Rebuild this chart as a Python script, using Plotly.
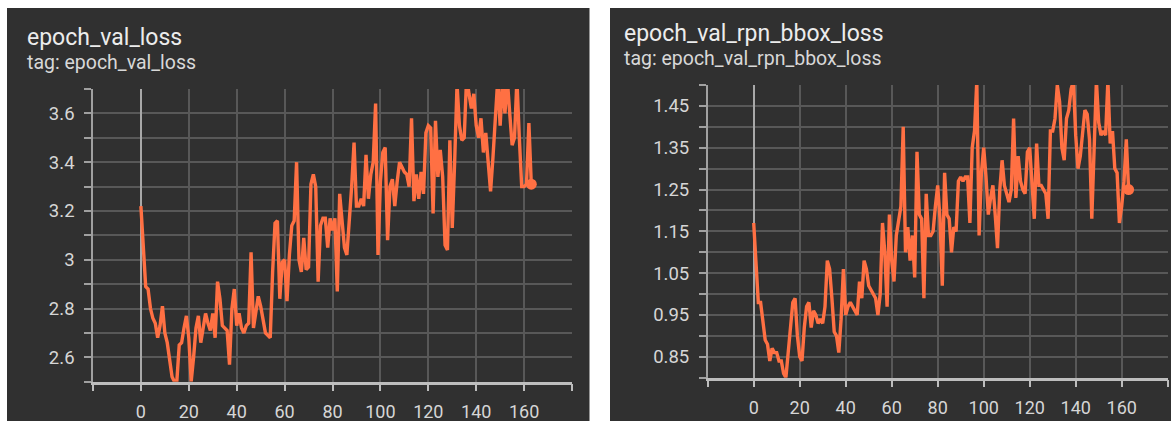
import plotly.graph_objects as go

W, H = 1171, 421

# ---------------- data ----------------
epochs_loss = list(range(164))
val_loss = [
    3.22, 3.05, 2.89, 2.88, 2.80, 2.76, 2.74, 2.68, 2.73, 2.81,
    2.70, 2.66, 2.60, 2.52, 2.50, 2.50, 2.65, 2.66, 2.72, 2.77,
    2.68, 2.50, 2.60, 2.72, 2.77, 2.66, 2.72, 2.78, 2.74, 2.71,
    2.78, 2.68, 2.91, 2.84, 2.73, 2.72, 2.71, 2.57, 2.80, 2.88,
    2.73, 2.78, 2.72, 2.70, 2.73, 2.74, 3.03, 2.72, 2.78, 2.85,
    2.81, 2.75, 2.70, 2.69, 2.68, 2.95, 3.15, 3.16, 2.84, 2.99,
    3.00, 2.83, 3.02, 3.14, 3.16, 3.40, 3.00, 2.95, 3.09, 2.96,
    2.97, 3.31, 3.35, 3.30, 2.91, 3.14, 3.17, 3.17, 3.05, 3.17,
    3.12, 3.17, 2.87, 3.27, 3.15, 3.05, 3.02, 3.14, 3.30, 3.48,
    3.22, 3.22, 3.25, 3.22, 3.43, 3.25, 3.35, 3.40, 3.64, 3.02,
    3.32, 3.44, 3.46, 3.08, 3.30, 3.33, 3.22, 3.32, 3.40, 3.38,
    3.36, 3.35, 3.30, 3.58, 3.24, 3.35, 3.25, 3.36, 3.27, 3.52,
    3.55, 3.54, 3.19, 3.57, 3.34, 3.45, 3.34, 3.06, 3.04, 3.49,
    3.13, 3.40, 3.72, 3.55, 3.49, 3.50, 3.75, 3.68, 3.62, 3.68,
    3.55, 3.50, 3.58, 3.44, 3.52, 3.40, 3.28, 3.42, 3.55, 3.74,
    3.55, 3.74, 3.60, 3.74, 3.60, 3.47, 3.50, 3.74, 3.50, 3.30,
    3.30, 3.31, 3.56, 3.31,
]

epochs_rpn = list(range(164))
val_rpn_bbox_loss = [
    1.17, 1.06, 0.98, 0.98, 0.94, 0.89, 0.88, 0.84, 0.87, 0.86,
    0.86, 0.84, 0.84, 0.81, 0.80, 0.86, 0.94, 0.98, 0.99, 0.90,
    0.85, 0.84, 0.92, 0.97, 0.98, 0.92, 0.96, 0.95, 0.93, 0.94,
    0.93, 0.97, 1.08, 1.06, 0.99, 0.91, 0.90, 0.86, 0.94, 1.06,
    0.95, 0.97, 0.98, 0.97, 0.96, 0.95, 1.03, 0.99, 1.08, 1.06,
    1.02, 1.01, 1.00, 0.99, 0.95, 1.00, 1.17, 1.10, 0.97, 1.19,
    1.08, 1.03, 1.14, 1.18, 1.21, 1.40, 1.10, 1.16, 1.08, 1.14,
    1.04, 1.34, 1.19, 1.18, 0.99, 1.24, 1.14, 1.14, 1.15, 1.21,
    1.26, 1.18, 1.02, 1.29, 1.19, 1.18, 1.10, 1.16, 1.15, 1.27,
    1.28, 1.27, 1.28, 1.28, 1.17, 1.35, 1.39, 1.51, 1.14, 1.29,
    1.35, 1.28, 1.19, 1.23, 1.26, 1.19, 1.11, 1.25, 1.32, 1.26,
    1.24, 1.22, 1.25, 1.42, 1.23, 1.33, 1.27, 1.25, 1.24, 1.34,
    1.35, 1.27, 1.18, 1.36, 1.26, 1.26, 1.25, 1.24, 1.18, 1.39,
    1.39, 1.42, 1.50, 1.46, 1.35, 1.32, 1.42, 1.44, 1.49, 1.51,
    1.38, 1.30, 1.33, 1.38, 1.44, 1.43, 1.37, 1.18, 1.35, 1.51,
    1.41, 1.38, 1.39, 1.38, 1.51, 1.36, 1.39, 1.30, 1.29, 1.17,
    1.21, 1.27, 1.37, 1.25,
]

x_tick_vals = [-20, 0, 20, 40, 60, 80, 100, 120, 140, 160, 180]
x_tick_text = ["", "0", "20", "40", "60", "80", "100", "120", "140", "160", ""]

panel_titles = ["epoch_val_loss", "epoch_val_rpn_bbox_loss"]
panel_tags = ["tag: epoch_val_loss", "tag: epoch_val_rpn_bbox_loss"]

# ---------------- style ----------------
BG = "#303030"
GRID = "#585858"
AXIS = "#bdbdbd"
TXT = "#d6d6d6"
ORANGE = "#ff7043"
FONT = "Roboto"


def px_x(p):
    return p / W


def px_y(p):
    return (H - p) / H


fig = go.Figure()

series = [(epochs_loss, val_loss, "x", "y"), (epochs_rpn, val_rpn_bbox_loss, "x2", "y2")]
for xs, ys, xa, ya in series:
    fig.add_trace(go.Scatter(x=xs, y=ys, xaxis=xa, yaxis=ya, mode="lines",
                             line=dict(color=ORANGE, width=3.4), hoverinfo="skip",
                             showlegend=False))
    fig.add_trace(go.Scatter(x=[xs[-1]], y=[ys[-1]], xaxis=xa, yaxis=ya, mode="markers",
                             marker=dict(color=ORANGE, size=11), hoverinfo="skip",
                             showlegend=False))

common_x = dict(
    range=[-20, 180], tickmode="array", tickvals=x_tick_vals, ticktext=x_tick_text,
    showgrid=True, gridcolor=GRID, gridwidth=1.5,
    zeroline=True, zerolinecolor="#a8a8a8", zerolinewidth=2,
    showline=True, linecolor=AXIS, linewidth=2.5,
    ticks="outside", ticklen=7, tickwidth=1.5, tickcolor=AXIS,
    tickfont=dict(family=FONT, size=18, color=TXT), ticklabelstandoff=5,
    fixedrange=True,
)
common_y = dict(
    showgrid=True, gridcolor=GRID, gridwidth=1.5, zeroline=False,
    showline=True, linecolor="#a0a0a0", linewidth=1.5,
    ticks="outside", ticklen=7, tickwidth=1.5, tickcolor="#a0a0a0",
    tickfont=dict(family=FONT, size=18.5, color=TXT), ticklabelstandoff=6,
    fixedrange=True,
)

fig.update_layout(
    width=W, height=H, margin=dict(l=0, r=0, t=0, b=0),
    paper_bgcolor="white", plot_bgcolor=BG,
    xaxis=dict(domain=[px_x(93), px_x(572)], anchor="y", **common_x),
    yaxis=dict(domain=[px_y(381.7), px_y(89)], anchor="x", range=[2.5, 3.7],
               tick0=2.6, dtick=0.2,
               minor=dict(tick0=2.5, dtick=0.1, showgrid=True, gridcolor=GRID, gridwidth=1.5,
                          ticks="outside", ticklen=7, tickcolor="#a0a0a0", tickwidth=1.5),
               **common_y),
    xaxis2=dict(domain=[px_x(707.7), px_x(1167.7)], anchor="y2", **common_x),
    yaxis2=dict(domain=[px_y(377.7), px_y(85)], anchor="x2", range=[0.8, 1.5],
                tick0=0.85, dtick=0.1,
                minor=dict(tick0=0.8, dtick=0.05, showgrid=True, gridcolor=GRID, gridwidth=1.5,
                           ticks="outside", ticklen=7, tickcolor="#a0a0a0", tickwidth=1.5),
                **common_y),
    shapes=[
        dict(type="rect", xref="paper", yref="paper", x0=px_x(7), x1=px_x(589.5),
             y0=0, y1=px_y(8), fillcolor=BG, line=dict(width=0), layer="below"),
        dict(type="rect", xref="paper", yref="paper", x0=px_x(610), x1=1,
             y0=0, y1=px_y(8), fillcolor=BG, line=dict(width=0), layer="below"),
    ],
    annotations=[
        dict(text=panel_titles[0], xref="paper", yref="paper", x=px_x(25), y=px_y(38),
             xanchor="left", yanchor="middle", showarrow=False,
             font=dict(family=FONT, size=23, color="#ececec")),
        dict(text=panel_tags[0], xref="paper", yref="paper", x=px_x(25), y=px_y(62),
             xanchor="left", yanchor="middle", showarrow=False,
             font=dict(family=FONT, size=19.5, color="#d8d8d8")),
        dict(text=panel_titles[1], xref="paper", yref="paper", x=px_x(622), y=px_y(33),
             xanchor="left", yanchor="middle", showarrow=False,
             font=dict(family=FONT, size=23, color="#ececec")),
        dict(text=panel_tags[1], xref="paper", yref="paper", x=px_x(622), y=px_y(58),
             xanchor="left", yanchor="middle", showarrow=False,
             font=dict(family=FONT, size=19.5, color="#d8d8d8")),
    ],
)

fig.write_html("out.html", config={"displayModeBar": False},
               post_script="document.body.style.margin='0';document.body.style.padding='0';")
